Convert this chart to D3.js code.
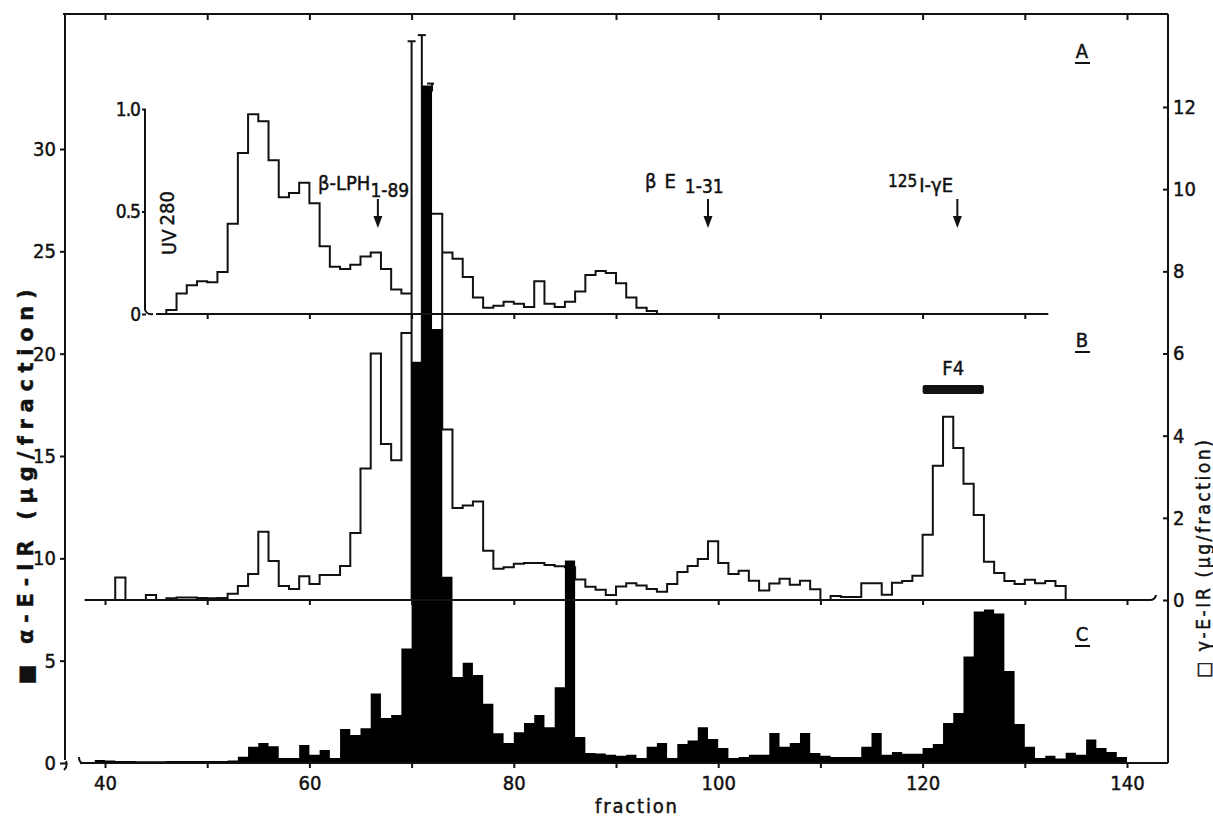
<!DOCTYPE html>
<html lang="en">
<head>
<meta charset="UTF-8">
<script src="https://cdnjs.cloudflare.com/ajax/libs/d3/7.8.5/d3.min.js"></script>
<style>
  body { margin: 0; background: #fff; }
  text { font-family: "DejaVu Sans Condensed", "Liberation Sans Narrow", sans-serif; fill: #111; stroke: #111; stroke-width: 0.45; }
  .axis path.domain { display: none; }
  .axis line { stroke: #111; stroke-width: 2; }
  .axis text { font-size: 20px; }
</style>
</head>
<body>
<script>
// ---- data (one value per fraction, bins [f, f+1)) ----
const fractionTicks = d3.range(40, 141, 10);
const fractionLabels = [40, 60, 80, 100, 120, 140];
const leftTicks = [0, 5, 10, 15, 20, 25, 30];
const rightTicks = [0, 2, 4, 6, 8, 10, 12];
const uvTicks = [0, 0.5, 1];

// A: UV 280 absorbance (inset), null where hidden behind the main peak
const uvStart = 45;
const uvValues = [0, .02, .10, .14, .16, .155, .205, .44, .785, .975,
  .94, .75, .57, .59, .64, .54, .33, .23, .22, .24,
  .28, .30, .22, .12, .10, null, null, null, .30, .27,
  .18, .08, .03, .04, .06, .05, .034, .16, .05, .034,
  .06, .11, .19, .21, .20, .15, .08, .03, .015, 0];

// B: gamma-E-IR (open bars, right axis), fractions 38..133
const gammaStart = 38;
const gammaValues = [0, 0, 0, .55, 0, 0, .12, 0, .04, .06,
  .06, .05, .04, .05, .15, .34, .63, 1.66, .95, .34,
  .27, .58, .39, .61, .61, .83, 1.63, 3.2, 6.0, 3.8,
  3.4, 6.5, 13.6, 13.75, 9.4, 4.15, 2.24, 2.3, 2.4, 1.2,
  .76, .8, .88, .9, .9, .85, .82, .8, .5, .32,
  .25, .12, .33, .41, .35, .27, .2, .39, .68, .83,
  1.0, 1.43, .9, .63, .71, .47, .23, .4, .52, .37,
  .47, .26, 0, .1, .07, .07, .41, .41, .13, .42,
  .46, .59, 1.59, 3.27, 4.46, 3.7, 2.83, 2.07, .93, .66,
  .46, .39, .49, .41, .46, .34, 0];

// C: alpha-E-IR (filled bars, left axis), fractions 39..139
const alphaStart = 39;
const alphaValues = [.15, .12, .1, .1, .08, .08, .08, .1, .1, .1,
  .1, .1, .1, .12, .3, .8, .98, .82, .24, .24,
  .88, .4, .63, .24, 1.66, 1.37, 1.7, 3.4, 2.2, 2.35,
  5.6, 19.6, 33.1, 21.2, 9.1, 4.2, 4.9, 4.3, 2.9, 1.45,
  .98, 1.5, 1.95, 2.35, 1.75, 3.7, 9.9, 1.27, .49, .47,
  .4, .35, .4, .24, .8, .98, .24, .93, 1.1, 1.75,
  1.17, .73, .24, .29, .4, .4, 1.46, .8, .98, 1.46,
  .49, .35, .29, .29, .29, .8, 1.46, .4, .54, .45,
  .45, .73, .93, 1.95, 2.44, 5.2, 7.4, 7.5, 7.3, 4.5,
  1.9, .8, .24, .35, .22, .5, .4, 1.15, .73, .54, .29];

// marker arrows (fraction of elution)
const markerNames = ["β-LPH", "βE", "I-γE"];
const markerAt = [66.7, 99.0, 123.4];
const poolName = "F4";
const poolRange = [120, 126];

// ---- layout ----
const W = 1213, H = 818;
const svg = d3.select("body").append("svg").attr("width", W).attr("height", H);

const frame = { left: 65, top: 14, right: 1168, bottom: 763 };
const x = d3.scaleLinear().domain([40, 140]).range([105, 1127]);
const yL = d3.scaleLinear().domain([0, 30]).range([763, 149]);
const yR = d3.scaleLinear().domain([0, 12]).range([600, 107]);
const yA = d3.scaleLinear().domain([0, 1]).range([314, 109]);
const offscale = 12.5;   // B bins above this are drawn as capped lines

// turn one-value-per-fraction into step vertices
function steps(start, vals) {
  const pts = [];
  vals.forEach((v, i) => {
    pts.push([start + i, v]);
    pts.push([start + i + 1, v]);
  });
  return pts;
}

const ln = (x1, y1, x2, y2, w) => svg.append("line")
  .attr("x1", x1).attr("y1", y1).attr("x2", x2).attr("y2", y2)
  .attr("stroke", "#111").attr("stroke-width", w || 2);

// B, open histogram (off-scale bins as capped verticals)
svg.append("path")
  .datum(steps(gammaStart, gammaValues))
  .attr("d", d3.line().defined(d => d[1] < offscale).x(d => x(d[0])).y(d => yR(d[1])))
  .attr("fill", "none").attr("stroke", "#111").attr("stroke-width", 2);

const tall = gammaValues.map((v, i) => [gammaStart + i, v]).filter(d => d[1] >= offscale);
tall.forEach(([f, v]) => {
  ln(x(f), yR(v), x(f), yR(0));
  ln(x(f) - 4, yR(v), x(f) + 4, yR(v));
});

// C, filled histogram
svg.append("path")
  .datum(steps(alphaStart, alphaValues))
  .attr("d", d3.area().x(d => x(d[0])).y0(yL(0)).y1(d => yL(d[1])))
  .attr("fill", "#000");

// cap on the tallest C bar
const peak = d3.maxIndex(alphaValues);
ln(x(alphaStart + peak + 1) - 5, yL(alphaValues[peak]) - 2, x(alphaStart + peak + 1) + 2, yL(alphaValues[peak]) - 2);
ln(x(alphaStart + peak + 1), yL(alphaValues[peak]) - 2, x(alphaStart + peak + 1), yL(alphaValues[peak]) + 6);

// A, UV trace
svg.append("path")
  .datum(steps(uvStart, uvValues))
  .attr("d", d3.line().defined(d => d[1] != null).x(d => x(d[0])).y(d => yA(d[1])))
  .attr("fill", "none").attr("stroke", "#111").attr("stroke-width", 2);

// frame
ln(frame.left - 2, frame.top, frame.right, frame.top);
ln(frame.left, frame.top, frame.left, frame.bottom - 3);
ln(frame.right, frame.top, frame.right, frame.bottom);
ln(80, frame.bottom, frame.right, frame.bottom);
// baselines of A and B
ln(x(38.2), yR(0), 1150, yR(0));
ln(157, yA(0), x(132.3), yA(0));
// axis breaks
const brk = d => svg.append("path").attr("d", d)
  .attr("fill", "none").attr("stroke", "#111").attr("stroke-width", 2);
brk(`M${frame.left + 1},${frame.bottom - 2} q2,5 -2,9`);
brk(`M79,${frame.bottom - 6} q0,6 4,6`);
brk(`M1150,${yR(0)} q5,0 6,-5`);
brk(`M145,${yA(0) - 4} q2,5 8,4`);

// axes
svg.append("g").attr("class", "axis")
  .attr("transform", `translate(${frame.left + 1},0)`)
  .call(d3.axisLeft(yL).tickValues(leftTicks).tickSize(6).tickPadding(4));

svg.append("g").attr("class", "axis")
  .attr("transform", `translate(${frame.right},0)`)
  .call(d3.axisRight(yR).tickValues(rightTicks).tickSize(-5).tickPadding(5))
  .selectAll("text").attr("text-anchor", "start");

svg.append("g").attr("class", "axis")
  .attr("transform", `translate(0,${frame.bottom})`)
  .call(d3.axisBottom(x).tickValues(fractionTicks).tickSize(5).tickPadding(8)
    .tickFormat(d => fractionLabels.includes(d) ? d : ""));

svg.append("g").attr("class", "axis")
  .attr("transform", `translate(0,${frame.top})`)
  .call(d3.axisBottom(x).tickValues(fractionTicks).tickSize(6).tickFormat(""));

svg.append("g").attr("class", "axis")
  .attr("transform", `translate(0,${yR(0)})`)
  .call(d3.axisBottom(x).tickValues(fractionTicks).tickSize(5).tickFormat(""));

svg.append("g").attr("class", "axis")
  .attr("transform", `translate(0,${yA(0)})`)
  .call(d3.axisBottom(x).tickValues(d3.range(50, 131, 10)).tickSize(5).tickFormat(""));

// inset UV axis
ln(145, yA(1), 145, yA(0) - 4);
svg.append("g").attr("class", "axis")
  .attr("transform", "translate(146,0)")
  .call(d3.axisLeft(yA).tickValues(uvTicks).tickSize(4).tickPadding(2)
    .tickFormat(d => d === 0 ? "0" : d.toFixed(1)))
  .selectAll("text").style("font-size", "19px").attr("letter-spacing", -1);

const uv = svg.append("text")
  .attr("transform", `translate(176,223) rotate(-90)`)
  .attr("text-anchor", "middle").style("font-size", "20px");
uv.append("tspan").text("UV");
uv.append("tspan").attr("dx", 4).attr("dy", -2).text("280");

// axis titles
svg.append("text")
  .attr("transform", "translate(33,487) rotate(-90)")
  .attr("text-anchor", "middle")
  .style("font-family", "'DejaVu Sans', sans-serif").style("font-size", "21px").style("font-weight", "bold")
  .attr("textLength", 395).attr("lengthAdjust", "spacing")
  .text("■ α-E-IR (µg/fraction)");

svg.append("text")
  .attr("transform", "translate(1210,559) rotate(-90)")
  .attr("text-anchor", "middle").style("font-size", "19px")
  .attr("textLength", 238).attr("lengthAdjust", "spacing")
  .text("□ γ-E-IR (µg/fraction)");

svg.append("text")
  .attr("x", 636).attr("y", 813).attr("text-anchor", "middle")
  .style("font-size", "20px").attr("textLength", 82).attr("lengthAdjust", "spacing")
  .text("fraction");

// panel letters
[["A", 58], ["B", 347], ["C", 641]].forEach(([t, yy]) => {
  svg.append("text").attr("x", 1082).attr("y", yy).attr("text-anchor", "middle")
    .style("font-size", "20px").text(t);
  ln(1075, yy + 5, 1090, yy + 5);
});

// marker arrows
markerAt.forEach(f => {
  const xx = x(f);
  ln(xx, 199, xx, 218);
  svg.append("path").attr("d", `M${xx - 4.5},216 L${xx + 4.5},216 L${xx},228 Z`).attr("fill", "#111");
});

const t1 = svg.append("text").attr("x", 318).attr("y", 190).style("font-size", "20px");
t1.append("tspan").text(markerNames[0]);
t1.append("tspan").attr("dy", 7).style("font-size", "19px").text("1-89");

const t2 = svg.append("text").attr("x", 645).attr("y", 188).style("font-size", "20px");
t2.append("tspan").text("β");
t2.append("tspan").attr("dx", 8).text("E");
t2.append("tspan").attr("dx", 9).attr("dy", 5).style("font-size", "19px").text("1-31");

const t3 = svg.append("text").attr("x", 888).attr("y", 192).style("font-size", "20px");
t3.append("tspan").attr("dy", -5).style("font-size", "17px").text("125");
t3.append("tspan").attr("dy", 5).attr("dx", 2).text(markerNames[2]);

// pooled fractions
svg.append("rect")
  .attr("x", x(poolRange[0])).attr("width", x(poolRange[1]) - x(poolRange[0]))
  .attr("y", 385).attr("height", 9).attr("rx", 2).attr("fill", "#111");
svg.append("text").attr("x", x((poolRange[0] + poolRange[1]) / 2)).attr("y", 375)
  .attr("text-anchor", "middle").style("font-size", "20px").text(poolName);
</script>
</body>
</html>
